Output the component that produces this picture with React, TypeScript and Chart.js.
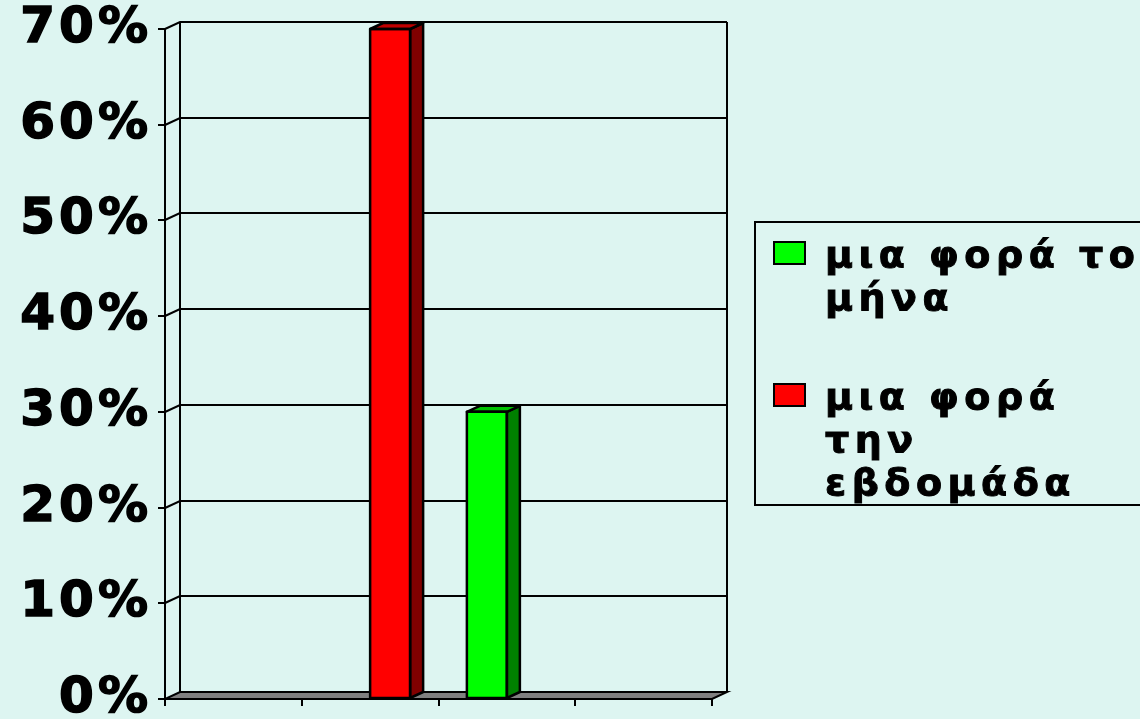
import React, { useEffect, useRef } from "react";
import { Chart, registerables } from "chart.js";

Chart.register(...registerables);

// Chart data
const categories = ["", "", "", ""];
const monthlyValues = [0, 0, 30, 0];
const weeklyValues = [0, 70, 0, 0];
const percentTicks = [0, 10, 20, 30, 40, 50, 60, 70];
const monthlyLegendLines = ["μια φορά το", "μήνα"];
const weeklyLegendLines = ["μια φορά", "την", "εβδομάδα"];

// Colours
const PAGE_BG = "#DDF5F1";
const FRONT_COLORS = ["#00FF00", "#FF0000"];
const SIDE_COLORS = ["#008000", "#800000"];
const TOP_COLORS = ["#00C000", "#C00000"];
const FLOOR_COLOR = "#808080";

// Pseudo-3D depth offsets (pixels)
const WALL_DX = 15;
const WALL_DY = -7;
const BAR_DX = 13;
const BAR_DY = -6;

const LABEL_FONT = "'DejaVu Sans', 'Verdana', sans-serif";

// Back wall, left wall diagonals and floor, drawn behind the columns
const wallsPlugin = {
  id: "walls3d",
  beforeDatasetsDraw(chart: any) {
    const { ctx, chartArea } = chart;
    const left = Math.round(chartArea.left);
    const right = Math.round(chartArea.right);
    const top = Math.round(chartArea.top);
    const bottom = Math.round(chartArea.bottom);
    const yScale = chart.scales.y;
    ctx.save();
    ctx.letterSpacing = "0px";
    ctx.strokeStyle = "#000";
    ctx.lineWidth = 2;

    // floor
    ctx.beginPath();
    ctx.moveTo(left, bottom);
    ctx.lineTo(right, bottom);
    ctx.lineTo(right + WALL_DX, bottom + WALL_DY);
    ctx.lineTo(left + WALL_DX, bottom + WALL_DY);
    ctx.closePath();
    ctx.fillStyle = FLOOR_COLOR;
    ctx.fill();
    ctx.stroke();

    // gridlines on the back wall, joined to the front axis ticks
    for (const t of yScale.ticks) {
      if (t.value === 0) continue;
      const py = Math.round(yScale.getPixelForValue(t.value));
      ctx.beginPath();
      ctx.moveTo(left, py);
      ctx.lineTo(left + WALL_DX, py + WALL_DY);
      ctx.lineTo(right + WALL_DX, py + WALL_DY);
      ctx.stroke();
    }

    // back wall edges
    ctx.beginPath();
    ctx.moveTo(left + WALL_DX, top + WALL_DY);
    ctx.lineTo(left + WALL_DX, bottom + WALL_DY);
    ctx.moveTo(right + WALL_DX, top + WALL_DY);
    ctx.lineTo(right + WALL_DX, bottom + WALL_DY);
    ctx.stroke();
    ctx.restore();
  },
};

// Side and top faces of each column
const columnDepthPlugin = {
  id: "columnDepth",
  afterDatasetsDraw(chart: any) {
    const { ctx } = chart;
    ctx.save();
    ctx.strokeStyle = "#000";
    ctx.lineWidth = 2.5;
    ctx.lineJoin = "round";
    chart.data.datasets.forEach((ds: any, di: number) => {
      const meta = chart.getDatasetMeta(di);
      meta.data.forEach((bar: any, i: number) => {
        const v = ds.data[i];
        if (!v) return;
        const { x, y, base, width } = bar.getProps(["x", "y", "base", "width"], true);
        const xl = x - width / 2;
        const xr = x + width / 2;
        // side
        ctx.beginPath();
        ctx.moveTo(xr, y);
        ctx.lineTo(xr + BAR_DX, y + BAR_DY);
        ctx.lineTo(xr + BAR_DX, base + BAR_DY);
        ctx.lineTo(xr, base);
        ctx.closePath();
        ctx.fillStyle = SIDE_COLORS[di];
        ctx.fill();
        ctx.stroke();
        // top
        ctx.beginPath();
        ctx.moveTo(xl, y);
        ctx.lineTo(xl + BAR_DX, y + BAR_DY);
        ctx.lineTo(xr + BAR_DX, y + BAR_DY);
        ctx.lineTo(xr, y);
        ctx.closePath();
        ctx.fillStyle = TOP_COLORS[di];
        ctx.fill();
        ctx.stroke();
        // front outline
        ctx.strokeRect(xl, y, width, base - y);
      });
    });
    ctx.restore();
  },
};

// Boxed legend with wrapped series names
const legendBoxPlugin = {
  id: "legendBox",
  afterDraw(chart: any) {
    const { ctx } = chart;
    const entries = [
      { lines: monthlyLegendLines, top: 242 },
      { lines: weeklyLegendLines, top: 384 },
    ];
    ctx.save();
    ctx.strokeStyle = "#000";
    ctx.lineWidth = 2;
    ctx.strokeRect(755, 222, 420, 283);
    ctx.letterSpacing = "5.5px";
    ctx.font = `bold 38px ${LABEL_FONT}`;
    ctx.textAlign = "left";
    ctx.textBaseline = "alphabetic";
    entries.forEach((e, di) => {
      ctx.fillStyle = FRONT_COLORS[di];
      ctx.fillRect(774, e.top, 31, 22);
      ctx.lineWidth = 2;
      ctx.strokeRect(774, e.top, 31, 22);
      ctx.fillStyle = "#000";
      ctx.lineWidth = 1;
      e.lines.forEach((line: string, li: number) => {
        const ty = e.top + 25 + li * 43;
        ctx.fillText(line, 825, ty);
        ctx.strokeText(line, 825, ty);
      });
    });
    ctx.restore();
  },
};

// Wider tracking for the axis labels
const trackingPlugin = {
  id: "tracking",
  beforeDraw(chart: any) {
    chart.ctx.letterSpacing = "4px";
  },
  afterDraw(chart: any) {
    chart.ctx.letterSpacing = "0px";
  },
};

export default function App() {
  const canvasRef = useRef<HTMLCanvasElement | null>(null);

  useEffect(() => {
    document.body.style.margin = "0";
    const canvas = canvasRef.current;
    if (!canvas) return;
    const chart = new Chart(canvas, {
      type: "bar",
      data: {
        labels: categories,
        datasets: [
          {
            label: monthlyLegendLines.join(" "),
            data: monthlyValues,
            backgroundColor: FRONT_COLORS[0],
            borderColor: "#000",
            borderWidth: 0,
            categoryPercentage: 0.585,
            barPercentage: 1,
          },
          {
            label: weeklyLegendLines.join(" "),
            data: weeklyValues,
            backgroundColor: FRONT_COLORS[1],
            borderColor: "#000",
            borderWidth: 0,
            categoryPercentage: 0.585,
            barPercentage: 1,
          },
        ],
      },
      options: {
        responsive: false,
        animation: false,
        layout: { padding: { left: 0, top: 29, right: 428, bottom: 0 } },
        plugins: {
          legend: { display: false },
          tooltip: { enabled: false },
        },
        scales: {
          x: {
            grid: {
              display: true,
              drawOnChartArea: false,
              drawTicks: true,
              tickLength: 7,
              color: "#000",
              lineWidth: 2,
              offset: true,
            },
            border: { display: true, color: "#000", width: 2 },
            ticks: { display: false },
            afterFit(scale: any) {
              scale.height = 20;
              scale.paddingLeft = 0;
              scale.paddingRight = 0;
            },
          },
          y: {
            min: 0,
            max: 70,
            grid: {
              display: true,
              drawOnChartArea: false,
              drawTicks: true,
              tickLength: 7,
              color: "#000",
              lineWidth: 2,
            },
            border: { display: true, color: "#000", width: 2 },
            afterBuildTicks(scale: any) {
              scale.ticks = percentTicks.map((value) => ({ value }));
            },
            ticks: {
              color: "#000",
              padding: 6,
              textStrokeColor: "#000",
              textStrokeWidth: 1.5,
              font: { family: LABEL_FONT, size: 50, weight: "bold" },
              callback: (v: any) => `${v}%`,
            },
            afterFit(scale: any) {
              scale.width = 165;
              scale.paddingTop = 0;
              scale.paddingBottom = 0;
            },
          },
        },
      },
      plugins: [trackingPlugin, wallsPlugin, columnDepthPlugin, legendBoxPlugin],
    });
    return () => chart.destroy();
  }, []);

  return (
    <div
      style={{
        position: "fixed",
        left: 0,
        top: 0,
        width: 1140,
        height: 719,
        background: PAGE_BG,
        overflow: "hidden",
      }}
    >
      <canvas ref={canvasRef} width={1140} height={719} style={{ display: "block" }} />
    </div>
  );
}
